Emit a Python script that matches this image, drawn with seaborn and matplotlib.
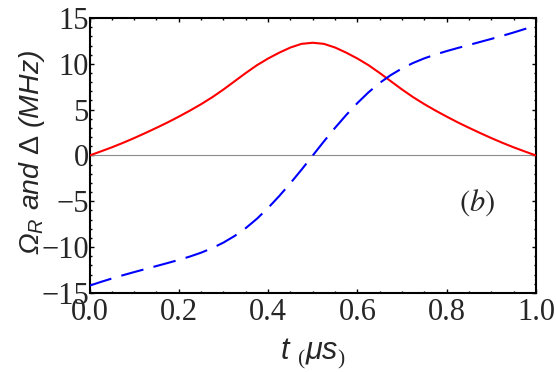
import matplotlib
matplotlib.use("Agg")
import matplotlib.pyplot as plt
from matplotlib.ticker import MultipleLocator
import pandas as pd
import seaborn as sns

# time grid (microseconds)
t_us = [0.000, 0.025, 0.050, 0.075, 0.100, 0.125, 0.150, 0.175, 0.200, 0.225,
        0.250, 0.275, 0.300, 0.325, 0.350, 0.375, 0.400, 0.425, 0.450, 0.475,
        0.500, 0.525, 0.550, 0.575, 0.600, 0.625, 0.650, 0.675, 0.700, 0.725,
        0.750, 0.775, 0.800, 0.825, 0.850, 0.875, 0.900, 0.925, 0.950, 0.975,
        1.000]

# Rabi frequency Omega_R (MHz)
omega_r = [0.00, 0.44, 0.89, 1.38, 1.90, 2.45, 3.02, 3.61, 4.24, 4.90,
           5.60, 6.36, 7.20, 8.10, 9.00, 9.85, 10.58, 11.22, 11.78, 12.18,
           12.30, 12.18, 11.78, 11.22, 10.58, 9.85, 9.00, 8.10, 7.20, 6.36,
           5.60, 4.90, 4.24, 3.61, 3.02, 2.45, 1.90, 1.38, 0.89, 0.44,
           0.00]

# detuning Delta (MHz)
delta = [-14.20, -13.80, -13.42, -13.06, -12.72, -12.39, -12.06, -11.73, -11.39, -11.02,
         -10.60, -10.10, -9.50, -8.78, -7.92, -6.90, -5.72, -4.42, -3.02, -1.54,
         0.00, 1.54, 3.02, 4.42, 5.72, 6.90, 7.92, 8.78, 9.50, 10.10,
         10.60, 11.02, 11.39, 11.73, 12.06, 12.39, 12.72, 13.06, 13.42, 13.80,
         14.20]

x_ticks = [0.0, 0.2, 0.4, 0.6, 0.8, 1.0]
y_ticks = [-15, -10, -5, 0, 5, 10, 15]

df = pd.DataFrame({"t": t_us, "omega": omega_r, "delta": delta})

sns.set_theme(style="ticks")
plt.rcParams["font.family"] = ["Liberation Serif", "DejaVu Serif"]
plt.rcParams["mathtext.fontset"] = "custom"
plt.rcParams["mathtext.rm"] = "Liberation Sans"
plt.rcParams["mathtext.it"] = "Liberation Sans:italic"
plt.rcParams["mathtext.sf"] = "Liberation Serif"

fig = plt.figure(figsize=(5.56, 3.72), dpi=100)
ax = fig.add_axes([0.161, 0.2124, 0.803, 0.7392])

ax.axhline(0, color="#8c8c8c", lw=0.8, zorder=1)
sns.lineplot(data=df, x="t", y="omega", ax=ax, color="#ff0000", lw=1.5, zorder=3)
sns.lineplot(data=df, x="t", y="delta", ax=ax, color="#0000ff", lw=1.5,
             linestyle=(0, (11, 5)), zorder=3)

ax.set_xlim(0, 1)
ax.set_ylim(-15, 15)
ax.set_xticks(x_ticks)
ax.set_xticklabels([f"{v:.1f}" for v in x_ticks])
ax.set_yticks(y_ticks)
ax.set_yticklabels([str(v).replace("-", "\u2212") for v in y_ticks])
ax.xaxis.set_minor_locator(MultipleLocator(0.05))
ax.yaxis.set_minor_locator(MultipleLocator(1))

ax.tick_params(which="both", direction="in", top=True, right=True,
               color="black", width=1.0)
ax.tick_params(which="major", length=2.6, labelsize=22)
ax.tick_params(axis="x", which="major", pad=3.5)
ax.tick_params(axis="y", which="major", pad=0.5)
ax.tick_params(which="minor", length=1.5)
for s in ax.spines.values():
    s.set_linewidth(1.5)
    s.set_color("black")

ax.set_xlabel(r"$t\ _{\mathsf{(}}\mu s_{\mathsf{)}}$", fontsize=22,
              math_fontfamily="custom")
ax.xaxis.set_label_coords(0.5, -0.16)
ax.set_ylabel("\u03a9$_R$ and $\\Delta$ (MHz)", family="Liberation Sans",
              style="italic", fontsize=20.5, math_fontfamily="custom")
ax.yaxis.set_label_coords(-0.096, 0.51)

ax.text(0.867, -5.1, r"$(b)$", fontsize=22, ha="center", va="center",
        math_fontfamily="stix")

fig.savefig("out.png", dpi=100)
